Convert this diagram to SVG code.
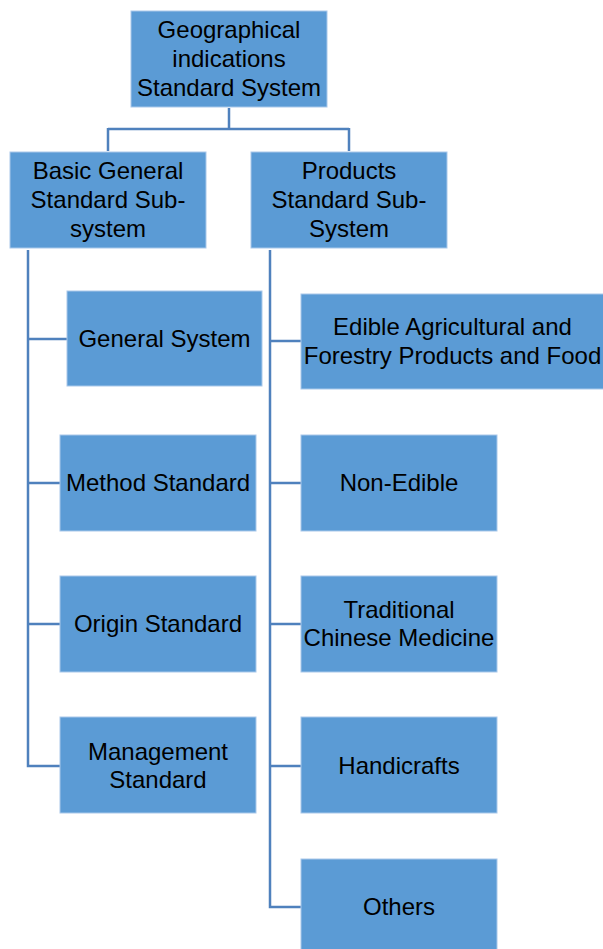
<svg xmlns="http://www.w3.org/2000/svg" width="603" height="949" viewBox="0 0 603 949">
<style>
.box{fill:#5B9BD5;stroke:#A9C8EA;stroke-width:1}
.t{font-family:"Liberation Sans",Arial,sans-serif;font-size:24px;fill:#000;text-anchor:middle}
.c{fill:none;stroke:#4F81BD;stroke-width:2.5}
</style>
<rect width="603" height="949" fill="#fff"/>
<g id="connectors">
<path class="c" d="M229,108 V129 M108,129 H349 M108,128 V151 M349,128 V151"/>
<path class="c" d="M28,250 V766 H60 M28,339 H67 M28,483 H60 M28,624 H60"/>
<path class="c" d="M270,250 V907 H301 M270,341 H301 M270,483 H301 M270,624 H301 M270,766 H301"/>
</g>
<g id="root"><rect class="box" x="131" y="11" width="196" height="96"/>
<text class="t" x="229" y="38">Geographical</text><text class="t" x="229" y="66.5">indications</text><text class="t" x="229" y="95.5">Standard System</text></g>
<g id="basic"><rect class="box" x="10" y="152" width="196" height="96"/>
<text class="t" x="108" y="179">Basic General</text><text class="t" x="108" y="208">Standard Sub-</text><text class="t" x="108" y="237">system</text></g>
<g id="products"><rect class="box" x="251" y="152" width="196" height="96"/>
<text class="t" x="349" y="179">Products</text><text class="t" x="349" y="208">Standard Sub-</text><text class="t" x="349" y="237">System</text></g>
<g id="general"><rect class="box" x="67" y="291" width="195" height="95"/>
<text class="t" x="164.5" y="347">General System</text></g>
<g id="method"><rect class="box" x="60" y="435" width="196" height="96"/>
<text class="t" x="158" y="491">Method Standard</text></g>
<g id="origin"><rect class="box" x="60" y="576" width="196" height="96"/>
<text class="t" x="158" y="632">Origin Standard</text></g>
<g id="management"><rect class="box" x="60" y="717" width="196" height="96"/>
<text class="t" x="158" y="759.5">Management</text><text class="t" x="158" y="788">Standard</text></g>
<g id="edible"><rect class="box" x="301" y="294" width="304" height="95"/>
<text class="t" x="452.5" y="335">Edible Agricultural and</text><text class="t" x="452.5" y="363.5">Forestry Products and Food</text></g>
<g id="nonedible"><rect class="box" x="301" y="435" width="196" height="96"/>
<text class="t" x="399" y="491">Non-Edible</text></g>
<g id="tcm"><rect class="box" x="301" y="576" width="196" height="96"/>
<text class="t" x="399" y="617.5">Traditional</text><text class="t" x="399" y="646">Chinese Medicine</text></g>
<g id="handicrafts"><rect class="box" x="301" y="717" width="196" height="96"/>
<text class="t" x="399" y="773.5">Handicrafts</text></g>
<g id="others"><rect class="box" x="301" y="859" width="196" height="96"/>
<text class="t" x="399" y="914.5">Others</text></g>
</svg>
